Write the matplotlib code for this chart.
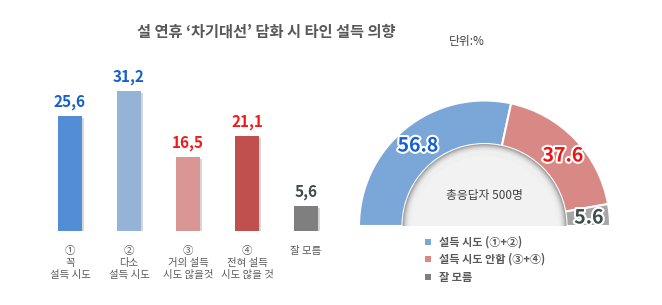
import matplotlib.pyplot as plt
import matplotlib.patheffects as pe
from matplotlib.patches import Wedge, Rectangle

plt.rcParams['font.family'] = ['Noto Sans CJK KR', 'DejaVu Sans']

# 막대 데이터
bar_labels = ['①\n꼭\n설득 시도', '②\n다소\n설득 시도', '③\n거의 설득\n시도 않을것',
              '④\n전혀 설득\n시도 않을 것', '잘 모름']
bar_values = [25.6, 31.2, 16.5, 21.1, 5.6]
bar_colors = ['#538dd5', '#95b3d7', '#da9694', '#c0504d', '#7f7f7f']
bar_text_colors = ['#1560d0', '#1560d0', '#ee1c1c', '#ee1c1c', '#3d4b4b']

# 반원 데이터
pie_labels = ['설득 시도 (①+②)', '설득 시도 안함 (③+④)', '잘 모름']
pie_values = [56.8, 37.6, 5.6]
pie_colors = ['#7ba6d8', '#d98985', '#a6a6a6']
pie_text_colors = ['#1560d0', '#ee1111', '#3d4b4b']
legend_colors = ['#7ba6d8', '#d98985', '#7f7f7f']

W, H = 662, 305
fig = plt.figure(figsize=(W / 100, H / 100), dpi=100)

# 제목
fig.text(266 / W, 1 - 32 / H, "설 연휴 ‘차기대선’ 담화 시 타인 설득 의향", ha='center', va='center',
         fontsize=11, fontweight='bold', color='#595959')
fig.text(467 / W, 1 - 42 / H, '단위:%', ha='center', va='center', fontsize=8.5, color='#404040')

# 왼쪽 막대 그래프
ax = fig.add_axes([40.5 / W, 74 / H, 295 / W, 180 / H])
x = range(len(bar_values))
bars = ax.bar(x, bar_values, width=0.39, color=bar_colors, zorder=2)
for b in bars:
    b.set_path_effects([pe.SimplePatchShadow(offset=(1.5, -1.5), shadow_rgbFace='#bbbbbb', alpha=0.6),
                        pe.Normal()])
for i, v in enumerate(bar_values):
    ax.text(i, v + 1.3, f'{v:.1f}'.replace('.', ','), ha='center', va='bottom', fontsize=11,
            fontweight='bold', color=bar_text_colors[i])
    ax.text(i, -3.4, bar_labels[i], ha='center', va='top', fontsize=7.5, color='#595959', linespacing=1.25)
ax.set_xlim(-0.5, 4.5)
ax.set_ylim(0, 40)
ax.axis('off')

# 오른쪽 반원 도넛
ax2 = fig.add_axes([0, 0, 1, 1], zorder=-1)
ax2.set_xlim(0, W)
ax2.set_ylim(0, H)
ax2.axis('off')
cx, cy = 484.5, H - 226
r_out, r_in = 125.5, 82
start = 180
for v, c in zip(pie_values, pie_colors):
    end = start - v / 100 * 180
    ax2.add_patch(Wedge((cx, cy), r_out, end, start, width=r_out - r_in, facecolor=c,
                        edgecolor='white', linewidth=1.5))
    start = end

# 안쪽 원 (그림자 효과)
shades = ['#a5a5a5', '#bdbdbd', '#d2d2d2', '#e0e0e0', '#e9e9e9', '#efefef']
for k, s in enumerate(shades):
    ax2.add_patch(Wedge((cx, cy), r_in - k * 1.3, 0, 180, facecolor=s, edgecolor='none'))
ax2.add_patch(Wedge((cx, cy - 4), r_in - 8, 0, 180, facecolor='#f2f2f2', edgecolor='none'))
ax2.add_patch(Rectangle((cx - r_out - 2, cy - 10), 2 * r_out + 4, 10, facecolor='white', edgecolor='none'))

ax2.text(cx, H - 195, '총응답자 500명', ha='center', va='center', fontsize=8.5, color='#404040')

pie_pos = [(418, 146), (563, 156), (589, 218)]
for (px, py), v, c in zip(pie_pos, pie_values, pie_text_colors):
    ax2.text(px, H - py, f'{v:.1f}', ha='center', va='center', fontsize=14, fontweight='bold', color=c,
             path_effects=[pe.withStroke(linewidth=3, foreground='white')])

# 범례
leg_y = [242, 259, 277]
for lab, c, ly in zip(pie_labels, legend_colors, leg_y):
    ax2.add_patch(Rectangle((425, H - ly - 3), 6, 6, facecolor=c, edgecolor='none'))
    ax2.text(439, H - ly, lab, ha='left', va='center', fontsize=8, fontweight='bold', color='#595959')

fig.savefig('out.png', dpi=100, facecolor='white')
